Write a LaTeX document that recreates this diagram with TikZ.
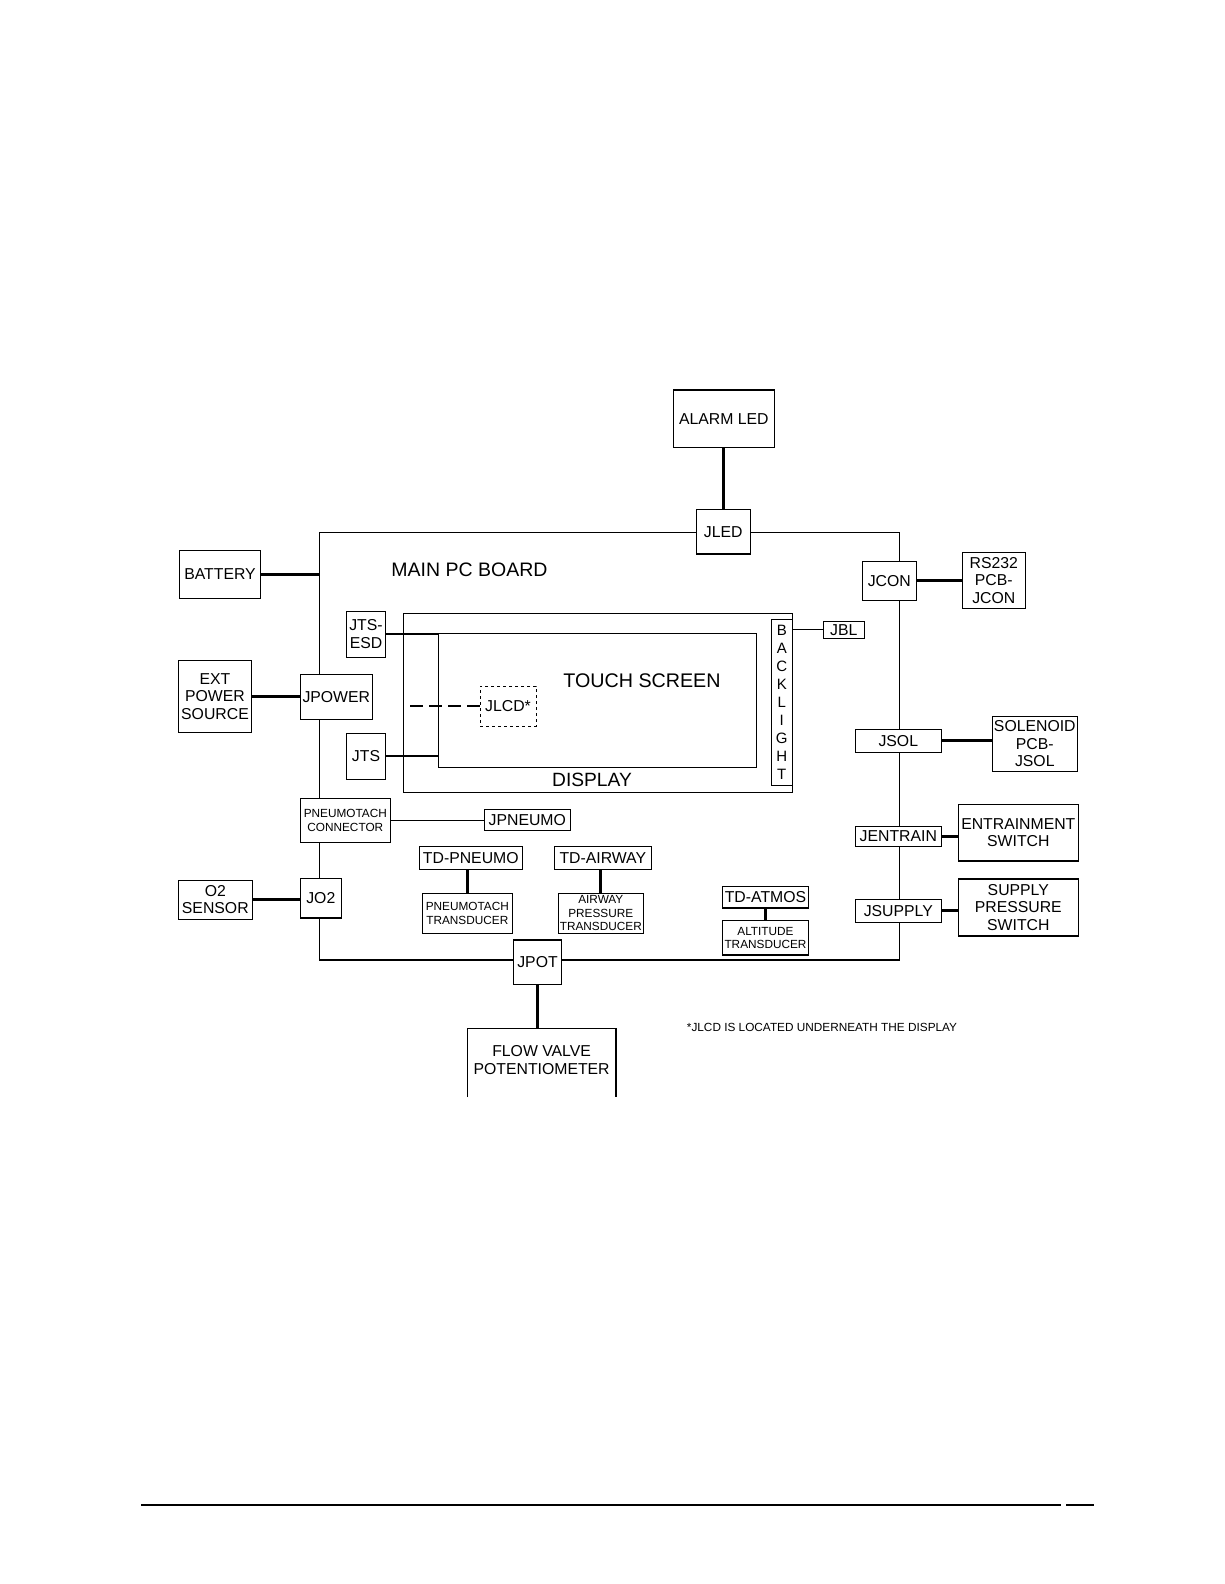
\documentclass[tikz,border=0pt]{standalone}
\usepackage{fontspec}
\setmainfont{Liberation Sans}
\begin{document}
\begin{tikzpicture}[x=1pt,y=-1pt,
  box/.style={draw, fill=white, line width=1.2pt, inner sep=0pt, align=center,
              font=\fontsize{15.8}{17.5}\selectfont},
  sbox/.style={box, font=\fontsize{11.8}{13.4}\selectfont},
  plain/.style={inner sep=0pt, align=center},
  thk/.style={line width=2.9pt},
  mid/.style={line width=2.2pt},
  thn/.style={line width=1.2pt},
  dbox/.style={box, dash pattern=on 3pt off 3pt, line width=1pt},
  ddash/.style={line width=2.9pt, dash pattern=on 13pt off 6pt}]
\useasboundingbox (0,0) rectangle (1224,1584);

% main board and display
\node[draw, line width=1.2pt, inner sep=0pt, minimum width=580, minimum height=427.7] (board) at (609.3,746.15) {};
\node[plain, font=\fontsize{19.5}{22}\selectfont] (boardlbl) at (469.5,569.3) {MAIN PC BOARD};
\node[draw, line width=1.2pt, inner sep=0pt, minimum width=388.6, minimum height=179] (display) at (598,702.8) {};
\node[draw, line width=1.2pt, inner sep=0pt, minimum width=318, minimum height=134] (ts) at (597.3,700.3) {};
\node[plain, font=\fontsize{19.7}{22}\selectfont] (tslbl) at (642,681) {TOUCH SCREEN};
\node[plain, font=\fontsize{19.2}{22}\selectfont] (displbl) at (592,780) {DISPLAY};
\node[box, minimum width=21, minimum height=166, font=\fontsize{15}{17.9}\selectfont] (backlight) at (781.8,702.3) {B\\A\\C\\K\\L\\I\\G\\H\\T};
\node[dbox, minimum width=56, minimum height=40] (jlcd) at (508,706) {JLCD*};

% boxes
\node[box, minimum width=101, minimum height=57.3] (alarm) at (723.8,418.7) {ALARM LED};
\node[box, minimum width=54, minimum height=44.7] (jled) at (723.3,531.7) {JLED};
\node[box, minimum width=81.4, minimum height=48] (battery) at (220,574.3) {BATTERY};
\node[box, minimum width=54, minimum height=39] (jcon) at (889.3,580.8) {JCON};
\node[box, minimum width=63, minimum height=56] (rs232) at (993.8,580.3) {RS232\\PCB-\\JCON};
\node[box, minimum width=39.4, minimum height=46] (jtsesd) at (366,634.3) {JTS-\\ESD};
\node[box, minimum width=73.4, minimum height=72] (ext) at (215,696.3) {EXT\\POWER\\SOURCE};
\node[box, minimum width=72, minimum height=45] (jpower) at (336.3,696.8) {JPOWER};
\node[box, minimum width=39.4, minimum height=46] (jts) at (366,756.3) {JTS};
\node[box, minimum width=41, minimum height=17] (jbl) at (843.8,629.8) {JBL};
\node[box, minimum width=86, minimum height=23] (jsol) at (898.3,740.8) {JSOL};
\node[box, minimum width=85, minimum height=55] (solenoid) at (1034.8,743.8) {SOLENOID\\PCB-\\JSOL};
\node[sbox, minimum width=90, minimum height=44] (pneucon) at (345.3,820.3) {PNEUMOTACH\\CONNECTOR};
\node[box, minimum width=86, minimum height=21] (jpneumo) at (527.3,819.8) {JPNEUMO};
\node[box, minimum width=103, minimum height=22.6] (tdpneumo) at (470.8,858) {TD-PNEUMO};
\node[sbox, minimum width=90, minimum height=40] (pneutrans) at (467.3,913.3) {PNEUMOTACH\\TRANSDUCER};
\node[box, minimum width=97, minimum height=22.6] (tdairway) at (602.8,858) {TD-AIRWAY};
\node[sbox, minimum width=85, minimum height=40] (airtrans) at (600.8,913.3) {AIRWAY\\PRESSURE\\TRANSDUCER};
\node[box, minimum width=74, minimum height=39] (o2) at (215.3,899.8) {O2\\SENSOR};
\node[box, minimum width=41, minimum height=39.7] (jo2) at (320.8,898.2) {JO2};
\node[box, minimum width=86, minimum height=19.6] (jentrain) at (898.3,836.5) {JENTRAIN};
\node[box, minimum width=120, minimum height=56.7] (entrain) at (1018.3,832.7) {ENTRAINMENT\\SWITCH};
\node[box, minimum width=85.6, minimum height=21.3] (tdatmos) at (765.5,897.3) {TD-ATMOS};
\node[sbox, minimum width=85.6, minimum height=34.7] (alttrans) at (765.5,937.7) {ALTITUDE\\TRANSDUCER};
\node[box, minimum width=86, minimum height=23] (jsupply) at (898.3,910.8) {JSUPPLY};
\node[box, minimum width=120, minimum height=57] (supply) at (1018.3,907.5) {SUPPLY\\PRESSURE\\SWITCH};
\node[box, minimum width=47.8, minimum height=44.3] (jpot) at (537.5,962.2) {JPOT};
\node[plain, minimum width=148.2, minimum height=68, font=\fontsize{15.8}{17.5}\selectfont] (flow) at (541.6,1063) {};
\node[plain, font=\fontsize{15.8}{17.5}\selectfont] (flowlbl) at (541.6,1060) {FLOW VALVE\\POTENTIOMETER};
\draw[thn] (flow.south west) |- (flow.north east) -- (flow.south east);
\node[plain, font=\fontsize{11.8}{13}\selectfont] (note) at (822,1027) {*JLCD IS LOCATED UNDERNEATH THE DISPLAY};

% connectors
\draw[thk] (jled.north) -- (jled.north |- alarm.south);
\draw[thk] (battery.east) -- (battery.east -| board.west);
\draw[thk] (jcon.east) -- (jcon.east -| rs232.west);
\draw[thk] (ext.east) -- (ext.east -| jpower.west);
\draw[mid] (jtsesd.east) -- (jtsesd.east -| ts.west);
\draw[mid] (jts.east) -- (jts.east -| ts.west);
\draw[ddash] (jlcd.west) -- (jlcd.west -| display.west);
\draw[thn] (jbl.west) -- (jbl.west -| backlight.east);
\draw[thk] (jsol.east) -- (jsol.east -| solenoid.west);
\draw[thn] (pneucon.east) -- (pneucon.east -| jpneumo.west);
\draw[thk] (pneutrans.north) -- (pneutrans.north |- tdpneumo.south);
\draw[thk] (airtrans.north) -- (airtrans.north |- tdairway.south);
\draw[thk] (o2.east) -- (o2.east -| jo2.west);
\draw[thk] (jentrain.east) -- (jentrain.east -| entrain.west);
\draw[thk] (alttrans.north) -- (alttrans.north |- tdatmos.south);
\draw[thk] (jsupply.east) -- (jsupply.east -| supply.west);
\draw[thk] (jpot.south) -- (jpot.south |- flow.north);

% footer rule
\coordinate (f1) at (141,1505);
\coordinate (f2) at (1061,1505);
\coordinate (f3) at (1066,1505);
\coordinate (f4) at (1094,1505);
\draw[line width=1.3pt] (f1) -- (f2);
\draw[line width=2.6pt] (f3) -- (f4);
\end{tikzpicture}
\end{document}
